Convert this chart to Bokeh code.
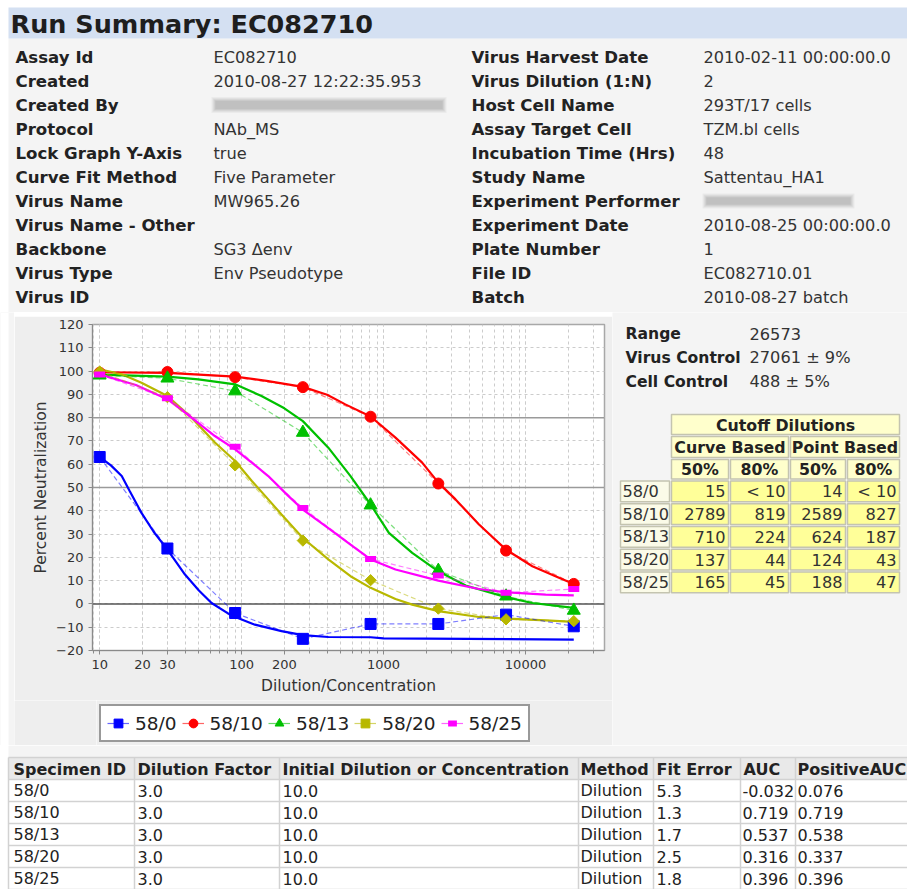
import math
from bokeh.plotting import figure
from bokeh.models import (Range1d, FixedTicker, Span, Legend, LegendItem,
                          BasicTickFormatter)
from bokeh.layouts import column, row
from bokeh.embed import file_html
from bokeh.resources import INLINE
from bokeh.core.properties import value

FONT = "DejaVu Sans"
PAGE_BG = "#f4f4f4"
PANEL_BG = "#eeeeee"

# ---------------- data ----------------
title_text = "Run Summary: EC082710"

left_labels = ["Assay Id", "Created", "Created By", "Protocol", "Lock Graph Y-Axis",
               "Curve Fit Method", "Virus Name", "Virus Name - Other", "Backbone",
               "Virus Type", "Virus ID"]
left_values = ["EC082710", "2010-08-27 12:22:35.953", None, "NAb_MS", "true",
               "Five Parameter", "MW965.26", "", "SG3 \u0394env", "Env Pseudotype", ""]

right_labels = ["Virus Harvest Date", "Virus Dilution (1:N)", "Host Cell Name",
                "Assay Target Cell", "Incubation Time (Hrs)", "Study Name",
                "Experiment Performer", "Experiment Date", "Plate Number", "File ID", "Batch"]
right_values = ["2010-02-11 00:00:00.0", "2", "293T/17 cells", "TZM.bl cells", "48",
                "Sattentau_HA1", None, "2010-08-25 00:00:00.0", "1", "EC082710.01",
                "2010-08-27 batch"]

control_labels = ["Range", "Virus Control", "Cell Control"]
control_values = ["26573", "27061 \u00b1 9%", "488 \u00b1 5%"]

specimens = ["58/0", "58/10", "58/13", "58/20", "58/25"]
dilutions = [10, 30, 90, 270, 810, 2430, 7290, 21870]

pts_58_0 = [63.1, 23.8, -3.9, -15.0, -8.6, -8.6, -4.6, -9.6]
pts_58_10 = [99.3, 99.6, 97.4, 93.1, 80.4, 51.7, 22.9, 8.6]
pts_58_13 = [98.2, 96.9, 91.4, 73.6, 42.4, 14.3, 3.3, -2.8]
pts_58_20 = [99.8, 88.8, 59.5, 27.2, 10.2, -2.0, -6.6, -7.4]
pts_58_25 = [98.5, 88.3, 67.5, 41.2, 19.3, 12.2, 4.8, 6.4]

fit_x_58_0 = [10, 12, 14.3, 16.3, 19.7, 24, 30, 39.9, 50, 61.4, 84.9, 124, 191, 270, 408, 810, 1000, 21870]
fit_y_58_0 = [63.1, 59.5, 54.9, 48.4, 39.1, 31.0, 23.3, 12.6, 5.8, 0.4, -5.0, -8.9, -11.7, -13.4, -14.2, -14.3, -14.8, -15.3]
fit_x_58_10 = [10, 30, 90, 150, 270, 400, 538, 810, 1213, 1870, 2430, 3213, 4700, 7290, 11170, 17200, 21870]
fit_y_58_10 = [99.5, 99.2, 97.6, 95.8, 93.2, 89.8, 85.7, 80.5, 71.4, 60.7, 52.1, 44.9, 34.1, 23.3, 16.2, 11.2, 8.6]
fit_x_58_13 = [10, 30, 49.6, 90, 138, 200, 270, 408, 585, 810, 1090, 1591, 2430, 3787, 7290, 11170, 21870]
fit_y_58_13 = [98.5, 97.6, 96.4, 94.3, 89.3, 84.0, 78.5, 67.1, 54.9, 42.7, 30.5, 21.9, 14.0, 7.9, 2.9, 0.4, -1.7]
fit_x_58_20 = [10, 14.3, 19.7, 30, 44.4, 64.8, 90, 118, 154, 191, 270, 408, 585, 810, 1213, 1591, 2430, 4700, 7290, 13870, 21870]
fit_y_58_20 = [100.7, 98.6, 95.0, 89.3, 80.0, 69.3, 61.4, 52.8, 44.9, 38.4, 28.3, 19.1, 11.9, 6.9, 2.1, -0.3, -3.1, -5.6, -6.3, -7.1, -7.7]
fit_x_58_25 = [10, 18, 30, 44.4, 64.8, 90, 118, 154, 213, 270, 408, 585, 810, 1213, 2430, 4700, 7290, 13870, 21870]
fit_y_58_25 = [98.6, 94.0, 87.9, 80.0, 72.1, 66.4, 60.7, 54.9, 46.4, 40.5, 32.6, 25.5, 19.1, 14.8, 10.0, 6.4, 5.0, 4.0, 3.7]

y_ticks = [-20, -10, 0, 10, 20, 30, 40, 50, 60, 70, 80, 90, 100, 110, 120]
x_ticks = [10, 20, 30, 100, 200, 1000, 10000]
x_minor = [m * d for d in (1, 10, 100, 1000, 10000) for m in range(1, 10) if 9 <= m * d <= 36000]
cutoff_lines = [50, 80]

curve50 = ["15", "2789", "710", "137", "165"]
curve80 = ["< 10", "819", "224", "44", "45"]
point50 = ["14", "2589", "624", "124", "188"]
point80 = ["< 10", "827", "187", "43", "47"]

table_headers = ["Specimen ID", "Dilution Factor", "Initial Dilution or Concentration",
                 "Method", "Fit Error", "AUC", "PositiveAUC"]
dil_factor = ["3.0", "3.0", "3.0", "3.0", "3.0"]
init_dil = ["10.0", "10.0", "10.0", "10.0", "10.0"]
method = ["Dilution", "Dilution", "Dilution", "Dilution", "Dilution"]
fit_error = ["5.3", "1.3", "1.7", "2.5", "1.8"]
auc = ["-0.032", "0.719", "0.537", "0.316", "0.396"]
pos_auc = ["0.076", "0.719", "0.538", "0.337", "0.396"]


# ---------------- helpers ----------------
def pix_fig(x0, x1, y0, y1, bg):
    p = figure(width=x1 - x0, height=y1 - y0, x_range=Range1d(x0, x1), y_range=Range1d(y1, y0),
               toolbar_location=None, output_backend="svg", min_border=0,
               x_axis_location=None, y_axis_location=None)
    p.grid.visible = False
    p.outline_line_color = None
    p.background_fill_color = bg
    p.border_fill_color = bg
    return p


def txt(p, x, y, s, size="16.2px", bold=False, color="#222222", align="left"):
    p.text(x=[x], y=[y], text=[s], text_font=value(FONT), text_font_size=size,
           text_font_style="bold" if bold else "normal", text_color=color,
           text_align=align, text_baseline="middle")


def blur(p, x0, x1, yc, h):
    for k, a in enumerate([0.12, 0.16, 0.22, 0.3, 0.36]):
        d = 4 - k
        p.quad(left=[x0 - d], right=[x1 + d], top=[yc - h / 2 - d], bottom=[yc + h / 2 + d],
               fill_color="#b0b0b0", fill_alpha=a, line_color=None)


# ---------------- top block ----------------
top = pix_fig(0, 907, 0, 312, "white")
top.quad(left=[8], right=[907], top=[38], bottom=[312], fill_color=PAGE_BG, line_color=None)
top.quad(left=[8], right=[907], top=[7], bottom=[38], fill_color="#d4e0f2", line_color=None)
txt(top, 10, 23, title_text, size="25.5px", bold=True, color="#1e1e1e")
row_y0, row_dy = 56.5, 24.0
for i, (lab, val) in enumerate(zip(left_labels, left_values)):
    yy = row_y0 + i * row_dy
    txt(top, 15, yy, lab, size="16.6px", bold=True)
    if val is None:
        blur(top, 215, 442, yy, 8)
    elif val:
        txt(top, 213, yy, val, color="#333333")
for i, (lab, val) in enumerate(zip(right_labels, right_values)):
    yy = row_y0 + i * row_dy
    txt(top, 471, yy, lab, size="16.6px", bold=True)
    if val is None:
        blur(top, 706, 850, yy, 7)
    elif val:
        txt(top, 703, yy, val, color="#333333")

# ---------------- chart ----------------
strip_left = pix_fig(0, 14, 312, 745, PAGE_BG)
strip_left.quad(left=[0], right=[8], top=[312], bottom=[745], fill_color="white", line_color=None)
strip_top = pix_fig(14, 612, 312, 316, PAGE_BG)

c = figure(width=598, height=384, x_axis_type="log", x_range=Range1d(8.9, 36000),
           y_range=Range1d(-20, 120), toolbar_location=None, output_backend="svg",
           min_border_left=78, min_border_right=8, min_border_top=8, min_border_bottom=50)
c.background_fill_color = "white"
c.border_fill_color = PANEL_BG
c.outline_line_color = "#a8a8a8"
c.outline_line_width = 1.5

c.yaxis.ticker = FixedTicker(ticks=y_ticks)
c.xaxis.ticker = FixedTicker(ticks=x_ticks, minor_ticks=x_minor)
c.xaxis.formatter = BasicTickFormatter(use_scientific=False)
for ax in (c.xaxis[0], c.yaxis[0]):
    ax.axis_line_color = "#8a8a8a"
    ax.major_tick_line_color = "#8a8a8a"
    ax.minor_tick_line_color = "#8a8a8a"
    ax.major_tick_out = 4
    ax.major_tick_in = 0
    ax.minor_tick_out = 3
    ax.minor_tick_in = 0
    ax.major_label_text_font = FONT
    ax.major_label_text_font_size = "13px"
    ax.major_label_text_color = "#333333"
    ax.axis_label_text_font = FONT
    ax.axis_label_text_font_size = "15.5px"
    ax.axis_label_text_font_style = "normal"
    ax.axis_label_text_color = "#333333"
    ax.major_label_standoff = 5
c.xaxis.axis_label = "Dilution/Concentration"
c.yaxis.axis_label = "Percent Neutralization"
c.yaxis.axis_label_standoff = 3
c.xaxis.axis_label_standoff = 5

c.xgrid.ticker = FixedTicker(ticks=x_ticks, minor_ticks=x_minor)
for g in (c.xgrid[0], c.ygrid[0]):
    g.grid_line_color = "#cccccc"
    g.grid_line_dash = "3 3"
    g.grid_line_width = 1
c.xgrid.minor_grid_line_color = "#cccccc"
c.xgrid.minor_grid_line_dash = "3 3"

for v in cutoff_lines:
    c.add_layout(Span(location=v, dimension="width", line_color="#9a9a9a", line_width=1.5, level="underlay"))
c.add_layout(Span(location=0, dimension="width", line_color="#555555", line_width=1.5, level="underlay"))

series = [
    ("58/0", pts_58_0, fit_x_58_0, fit_y_58_0, "#0000ff", dict(marker="square", size=11)),
    ("58/10", pts_58_10, fit_x_58_10, fit_y_58_10, "#ff0000", dict(marker="circle", size=11)),
    ("58/13", pts_58_13, fit_x_58_13, fit_y_58_13, "#00c000", dict(marker="triangle", size=13)),
    ("58/20", pts_58_20, fit_x_58_20, fit_y_58_20, "#b8b800", dict(marker="square", size=8, angle=math.pi / 4)),
    ("58/25", pts_58_25, fit_x_58_25, fit_y_58_25, "#ff00ff", dict(marker="dash", size=11, line_width=6)),
]
for name, pts, fx, fy, col, mk in series:
    c.line(fx, fy, line_color=col, line_width=2.2)
for name, pts, fx, fy, col, mk in series:
    c.line(dilutions, pts, line_color=col, line_alpha=0.5, line_width=1.2, line_dash="5 3")
    m = dict(mk)
    lw = m.pop("line_width", 1)
    c.scatter(dilutions, pts, fill_color=col, line_color=col, line_width=lw, **m)

# legend strip below the chart: legend-only proxy renderers (single point, kept off-view)
leg_pad = pix_fig(14, 96, 700, 745, PANEL_BG)
leg_fig = pix_fig(96, 612, 700, 745, PANEL_BG)
items = []
for name, pts, fx, fy, col, mk in series:
    m = dict(mk)
    lw = m.pop("line_width", 1)
    m.pop("size", None)
    lr = leg_fig.line([-1e6], [-1e6], line_color=col, line_alpha=0.6, line_width=1.2)
    sr = leg_fig.scatter([-1e6], [-1e6], fill_color=col, line_color=col, line_width=lw, **m)
    items.append(LegendItem(label=name, renderers=[lr, sr]))
legend = Legend(items=items, orientation="horizontal", location="bottom_left", margin=3,
                padding=6, spacing=5, glyph_width=22, glyph_height=22, label_standoff=6,
                label_text_font=FONT, label_text_font_size="18.5px", label_text_color="#222222",
                border_line_color="#333333", border_line_width=2,
                background_fill_color="white", background_fill_alpha=1)
leg_fig.add_layout(legend, "center")

# ---------------- side block ----------------
side = pix_fig(612, 907, 312, 745, PAGE_BG)
for i, (lab, val) in enumerate(zip(control_labels, control_values)):
    yy = 333 + i * 24
    txt(side, 625, yy, lab, size="15.6px", bold=True)
    txt(side, 749, yy, val, color="#333333")

col_edges = [619, 670, 729, 789, 846, 900]
hdr_fill = "#ffffcc"
dat_fill = "#ffff99"
lab_fill = "#fbfbe8"
bcol = "#c4c4b0"


def cell(p, x0, x1, y0, y1, fill):
    p.quad(left=[x0 + 1], right=[x1 - 1], top=[y0 + 1], bottom=[y1 - 1],
           fill_color=fill, line_color=bcol, line_width=1.5)


cell(side, col_edges[1], col_edges[5], 413, 435, hdr_fill)
txt(side, (col_edges[1] + col_edges[5]) / 2, 424.5, "Cutoff Dilutions", size="15.8px", bold=True, align="center")
cell(side, col_edges[1], col_edges[3], 435, 458, hdr_fill)
cell(side, col_edges[3], col_edges[5], 435, 458, hdr_fill)
txt(side, (col_edges[1] + col_edges[3]) / 2, 447, "Curve Based", size="15.8px", bold=True, align="center")
txt(side, (col_edges[3] + col_edges[5]) / 2, 447, "Point Based", size="15.8px", bold=True, align="center")
for j, lab in enumerate(["50%", "80%", "50%", "80%"]):
    cell(side, col_edges[1 + j], col_edges[2 + j], 458, 479.5, hdr_fill)
    txt(side, (col_edges[1 + j] + col_edges[2 + j]) / 2, 469, lab, size="15.8px", bold=True, align="center")
row_edges = [479.5, 502.3, 525, 547.8, 570.5, 593.3]
for i, name in enumerate(specimens):
    y0, y1 = row_edges[i], row_edges[i + 1]
    ym = (y0 + y1) / 2
    cell(side, col_edges[0], col_edges[1], y0, y1, lab_fill)
    txt(side, col_edges[0] + 3, ym, name, color="#333333")
    for j, colvals in enumerate([curve50, curve80, point50, point80]):
        cell(side, col_edges[1 + j], col_edges[2 + j], y0, y1, dat_fill)
        txt(side, col_edges[2 + j] - 4, ym, colvals[i], color="#333333", align="right")

# ---------------- bottom table ----------------
bot = pix_fig(0, 907, 745, 889, "white")
bot.quad(left=[8], right=[907], top=[745], bottom=[757], fill_color=PAGE_BG, line_color=None)
t_top, h_h, r_h = 757, 22, 22
bot.quad(left=[8], right=[907], top=[t_top], bottom=[t_top + h_h], fill_color="#e9e9e9", line_color=None)
sep_x = [134, 279, 578, 653, 740, 795]
text_x = [13, 137, 282, 580, 656, 743, 797]
for xs in sep_x:
    bot.segment(x0=[xs], y0=[t_top], x1=[xs], y1=[889], line_color="#d2d2d2", line_width=1.5)
bot.segment(x0=[8], y0=[t_top], x1=[907], y1=[t_top], line_color="#d2d2d2", line_width=1.5)
bot.segment(x0=[8], y0=[t_top], x1=[8], y1=[889], line_color="#d2d2d2", line_width=1.5)
for k in range(6):
    yl = t_top + h_h + k * r_h
    bot.segment(x0=[8], y0=[yl], x1=[907], y1=[yl], line_color="#d2d2d2", line_width=1.5)
for j, hname in enumerate(table_headers):
    txt(bot, text_x[j], t_top + h_h / 2 + 0.5, hname, size="16px", bold=True)
for i, name in enumerate(specimens):
    ym = t_top + h_h + i * r_h + r_h / 2
    vals = [name, dil_factor[i], init_dil[i], method[i], fit_error[i], auc[i], pos_auc[i]]
    for j, v in enumerate(vals):
        txt(bot, text_x[j] if j != 5 else 742, ym, v, size="16px")

layout = column(top, row(strip_left, column(strip_top, c, row(leg_pad, leg_fig)), side), bot)
open("out.html", "w").write(file_html(layout, INLINE))
